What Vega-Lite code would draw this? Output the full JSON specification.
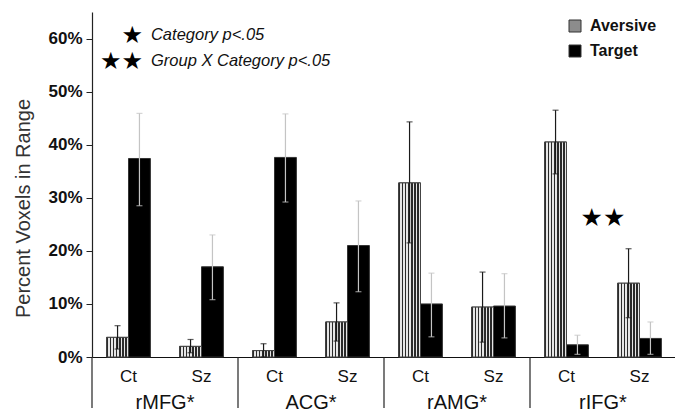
{
  "$schema": "https://vega.github.io/schema/vega-lite/v6.json",
  "width": 584,
  "height": 345,
  "autosize": {"type": "none"},
  "padding": {"left": 92, "top": 12, "right": 0, "bottom": 58},
  "background": "white",
  "config": {"view": {"stroke": null}, "font": "Liberation Sans", "axis": {"grid": false}},
  "datasets": {
    "bars": [
      {"key": "rMFG|Ct", "series": "Aversive", "value": 0.037, "lo": 0.015, "hi": 0.059},
      {"key": "rMFG|Ct", "series": "Target", "value": 0.374, "lo": 0.285, "hi": 0.459},
      {"key": "rMFG|Sz", "series": "Aversive", "value": 0.020, "lo": 0.008, "hi": 0.033},
      {"key": "rMFG|Sz", "series": "Target", "value": 0.170, "lo": 0.108, "hi": 0.230},
      {"key": "ACG|Ct", "series": "Aversive", "value": 0.012, "lo": 0.0, "hi": 0.025},
      {"key": "ACG|Ct", "series": "Target", "value": 0.376, "lo": 0.292, "hi": 0.458},
      {"key": "ACG|Sz", "series": "Aversive", "value": 0.066, "lo": 0.030, "hi": 0.102},
      {"key": "ACG|Sz", "series": "Target", "value": 0.210, "lo": 0.123, "hi": 0.294},
      {"key": "rAMG|Ct", "series": "Aversive", "value": 0.328, "lo": 0.215, "hi": 0.443},
      {"key": "rAMG|Ct", "series": "Target", "value": 0.100, "lo": 0.038, "hi": 0.158},
      {"key": "rAMG|Sz", "series": "Aversive", "value": 0.094, "lo": 0.028, "hi": 0.160},
      {"key": "rAMG|Sz", "series": "Target", "value": 0.096, "lo": 0.036, "hi": 0.157},
      {"key": "rIFG|Ct", "series": "Aversive", "value": 0.405, "lo": 0.345, "hi": 0.465},
      {"key": "rIFG|Ct", "series": "Target", "value": 0.023, "lo": 0.005, "hi": 0.041},
      {"key": "rIFG|Sz", "series": "Aversive", "value": 0.139, "lo": 0.074, "hi": 0.204},
      {"key": "rIFG|Sz", "series": "Target", "value": 0.035, "lo": 0.005, "hi": 0.066}
    ],
    "groups": [
      {"key": "rMFG|Ct", "region": "rMFG*"},
      {"key": "ACG|Ct", "region": "ACG*"},
      {"key": "rAMG|Ct", "region": "rAMG*"},
      {"key": "rIFG|Ct", "region": "rIFG*"}
    ]
  },
  "layer": [
    {
      "data": {"name": "bars"},
      "mark": {"type": "bar", "stroke": "#333", "strokeWidth": 1},
      "encoding": {
        "x": {
          "field": "key", "type": "nominal",
          "scale": {"domain": ["rMFG|Ct", "rMFG|Sz", "ACG|Ct", "ACG|Sz", "rAMG|Ct", "rAMG|Sz", "rIFG|Ct", "rIFG|Sz"], "paddingInner": 0.4, "paddingOuter": 0.2},
          "axis": {"title": null, "labelExpr": "split(datum.label, '|')[1]", "labelAngle": 0, "ticks": false, "tickSize": 0, "labelPadding": 11, "labelFontSize": 17, "labelColor": "#111", "domainColor": "#111", "domainWidth": 1.2}
        },
        "xOffset": {"field": "series", "type": "nominal", "scale": {"domain": ["Aversive", "Target"], "paddingInner": 0, "paddingOuter": 0}},
        "y": {
          "field": "value", "type": "quantitative",
          "scale": {"domain": [0, 0.65], "nice": false},
          "axis": {"title": "Percent Voxels in Range", "values": [0, 0.1, 0.2, 0.3, 0.4, 0.5, 0.6], "format": ".0%", "labelFontSize": 17, "labelFontWeight": "bold", "labelColor": "#111", "tickSize": 6, "tickColor": "#222", "domainColor": "#222", "domainWidth": 1.2, "labelPadding": 4, "titleFontSize": 20, "titleFontWeight": "normal", "titleColor": "#333", "titlePadding": 14, "titleY": 196}
        },
        "fill": {
          "field": "series", "type": "nominal",
          "scale": {"domain": ["Aversive", "Target"], "range": ["#8c8c8c", "#000000"]},
          "legend": {"title": null, "orient": "none", "legendX": 475, "legendY": 6, "symbolType": "square", "symbolSize": 144, "symbolStrokeColor": "#333", "symbolStrokeWidth": 1, "labelFontSize": 16, "labelFontWeight": "bold", "labelColor": "#111", "rowPadding": 9, "labelOffset": 7}
        }
      }
    },
    {
      "data": {"name": "bars"},
      "transform": [{"filter": "datum.series === 'Aversive'"}],
      "mark": {
        "type": "bar", "stroke": "#444", "strokeWidth": 1,
        "fill": {"gradient": "linear", "x1": 0, "y1": 0, "x2": 1, "y2": 0, "stops": [
          {"offset": 0, "color": "#2a2a2a"}, {"offset": 0.064, "color": "#2a2a2a"}, {"offset": 0.064, "color": "#e6e6e6"}, {"offset": 0.1429, "color": "#e6e6e6"},
          {"offset": 0.1429, "color": "#2a2a2a"}, {"offset": 0.2071, "color": "#2a2a2a"}, {"offset": 0.2071, "color": "#e6e6e6"}, {"offset": 0.2857, "color": "#e6e6e6"},
          {"offset": 0.2857, "color": "#2a2a2a"}, {"offset": 0.35, "color": "#2a2a2a"}, {"offset": 0.35, "color": "#e6e6e6"}, {"offset": 0.4286, "color": "#e6e6e6"},
          {"offset": 0.4286, "color": "#2a2a2a"}, {"offset": 0.4929, "color": "#2a2a2a"}, {"offset": 0.4929, "color": "#e6e6e6"}, {"offset": 0.5714, "color": "#e6e6e6"},
          {"offset": 0.5714, "color": "#2a2a2a"}, {"offset": 0.6357, "color": "#2a2a2a"}, {"offset": 0.6357, "color": "#e6e6e6"}, {"offset": 0.7143, "color": "#e6e6e6"},
          {"offset": 0.7143, "color": "#2a2a2a"}, {"offset": 0.7786, "color": "#2a2a2a"}, {"offset": 0.7786, "color": "#e6e6e6"}, {"offset": 0.8571, "color": "#e6e6e6"},
          {"offset": 0.8571, "color": "#2a2a2a"}, {"offset": 0.9214, "color": "#2a2a2a"}, {"offset": 0.9214, "color": "#e6e6e6"}, {"offset": 1, "color": "#e6e6e6"}
        ]}
      },
      "encoding": {
        "x": {"field": "key", "type": "nominal"},
        "xOffset": {"field": "series", "type": "nominal"},
        "y": {"field": "value", "type": "quantitative"}
      }
    },
    {
      "data": {"name": "bars"},
      "mark": {"type": "rule", "strokeWidth": 1.2},
      "encoding": {
        "x": {"field": "key", "type": "nominal"},
        "xOffset": {"field": "series", "type": "nominal"},
        "y": {"field": "lo", "type": "quantitative"},
        "y2": {"field": "hi"},
        "color": {"condition": {"test": "datum.series === 'Aversive'", "value": "#1a1a1a"}, "value": "#c4c4c4"}
      }
    },
    {
      "data": {"name": "bars"},
      "mark": {"type": "tick", "size": 6, "thickness": 1.2},
      "encoding": {
        "x": {"field": "key", "type": "nominal"},
        "xOffset": {"field": "series", "type": "nominal"},
        "y": {"field": "hi", "type": "quantitative"},
        "color": {"condition": {"test": "datum.series === 'Aversive'", "value": "#1a1a1a"}, "value": "#c4c4c4"}
      }
    },
    {
      "data": {"name": "bars"},
      "mark": {"type": "tick", "size": 6, "thickness": 1.2},
      "encoding": {
        "x": {"field": "key", "type": "nominal"},
        "xOffset": {"field": "series", "type": "nominal"},
        "y": {"field": "lo", "type": "quantitative"},
        "color": {"condition": {"test": "datum.series === 'Aversive'", "value": "#1a1a1a"}, "value": "#c4c4c4"}
      }
    },
    {
      "data": {"name": "groups"},
      "mark": {"type": "rule", "color": "#222", "strokeWidth": 1.2},
      "encoding": {
        "x": {"field": "key", "type": "nominal", "bandPosition": -0.3333},
        "y": {"datum": 0},
        "y2": {"datum": -0.096}
      }
    },
    {
      "data": {"name": "groups"},
      "mark": {"type": "text", "fontSize": 20, "baseline": "middle", "align": "center", "color": "#111"},
      "encoding": {
        "x": {"field": "key", "type": "nominal", "bandPosition": 1.3333},
        "y": {"datum": -0.087},
        "text": {"field": "region"}
      }
    },
    {
      "data": {"values": [{"key": "rIFG|Ct", "label": "★★"}]},
      "mark": {"type": "text", "fontSize": 25, "font": "DejaVu Sans", "baseline": "middle", "align": "center", "color": "#000", "dy": 1},
      "encoding": {
        "x": {"field": "key", "type": "nominal", "bandPosition": 1.3333},
        "y": {"datum": 0.264},
        "text": {"field": "label"}
      }
    },
    {
      "data": {"values": [{"key": "rMFG|Ct", "label": "★"}]},
      "mark": {"type": "text", "fontSize": 24, "font": "DejaVu Sans", "baseline": "middle", "align": "right", "color": "#000", "dy": 1},
      "encoding": {
        "x": {"field": "key", "type": "nominal", "bandPosition": 0.83},
        "y": {"datum": 0.606},
        "text": {"field": "label"}
      }
    },
    {
      "data": {"values": [{"key": "rMFG|Ct", "label": "★★"}]},
      "mark": {"type": "text", "fontSize": 24, "font": "DejaVu Sans", "baseline": "middle", "align": "right", "color": "#000", "dy": 1},
      "encoding": {
        "x": {"field": "key", "type": "nominal", "bandPosition": 0.83},
        "y": {"datum": 0.557},
        "text": {"field": "label"}
      }
    },
    {
      "data": {"values": [{"key": "rMFG|Ct", "label": "Category p<.05"}]},
      "mark": {"type": "text", "fontSize": 16.5, "fontStyle": "italic", "baseline": "middle", "align": "left", "dx": 8, "color": "#111"},
      "encoding": {
        "x": {"field": "key", "type": "nominal", "bandPosition": 0.83},
        "y": {"datum": 0.606},
        "text": {"field": "label"}
      }
    },
    {
      "data": {"values": [{"key": "rMFG|Ct", "label": "Group X Category p<.05"}]},
      "mark": {"type": "text", "fontSize": 16.5, "fontStyle": "italic", "baseline": "middle", "align": "left", "dx": 8, "color": "#111"},
      "encoding": {
        "x": {"field": "key", "type": "nominal", "bandPosition": 0.83},
        "y": {"datum": 0.557},
        "text": {"field": "label"}
      }
    }
  ]
}
